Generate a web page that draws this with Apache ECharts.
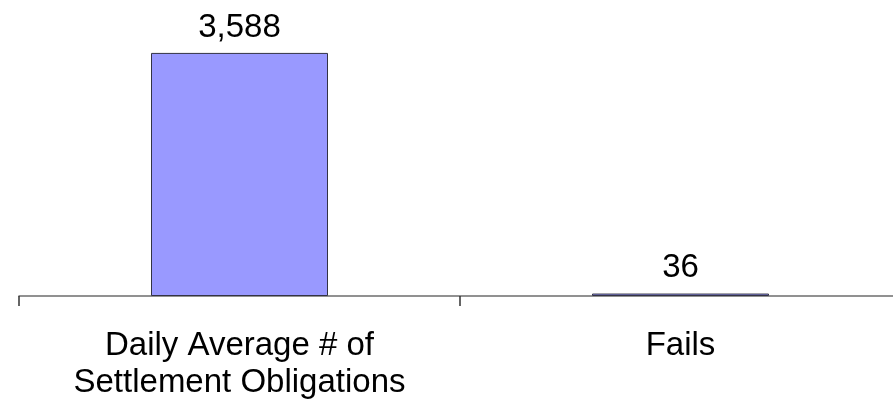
<!DOCTYPE html>
<html>
<head>
<meta charset="utf-8">
<script src="https://cdn.jsdelivr.net/npm/echarts@6/dist/echarts.min.js"></script>
<style>
  html, body { margin: 0; padding: 0; background: #fff; overflow: hidden; }
  /* the axis runs a little past the right edge of the view */
  #chart { width: 901px; height: 402px; }
</style>
</head>
<body>
<div id="chart"></div>
<script>
// Settlement obligations vs. fails (daily average)
const categories = ['Daily Average # of\nSettlement Obligations', 'Fails'];
const values = [3588, 36];

const chart = echarts.init(document.getElementById('chart'));
chart.setOption({
  animation: false,
  grid: { left: 19, top: 25, right: 0, bottom: 106, containLabel: false },
  xAxis: {
    type: 'category',
    data: categories,
    boundaryGap: true,
    axisLine: { show: true, lineStyle: { color: '#6e6e6e', width: 1.5 } },
    axisTick: { show: true, alignWithLabel: false, interval: 0, length: 10, lineStyle: { color: '#333', width: 1.5 } },
    axisLabel: {
      interval: 0,
      margin: 31,
      color: '#000',
      fontFamily: 'Liberation Sans, Arial, sans-serif',
      fontSize: 33,
      lineHeight: 37
    }
  },
  yAxis: {
    type: 'value',
    min: 0,
    max: 4000,
    show: false,
    splitLine: { show: false }
  },
  series: [{
    type: 'bar',
    data: values,
    barWidth: 177,
    itemStyle: { color: '#9999ff', borderColor: '#333344', borderWidth: 1 },
    label: {
      show: true,
      position: 'top',
      distance: 9,
      color: '#000',
      fontFamily: 'Liberation Sans, Arial, sans-serif',
      fontSize: 33,
      formatter: p => p.value.toLocaleString('en-US')
    }
  }]
});
</script>
</body>
</html>
